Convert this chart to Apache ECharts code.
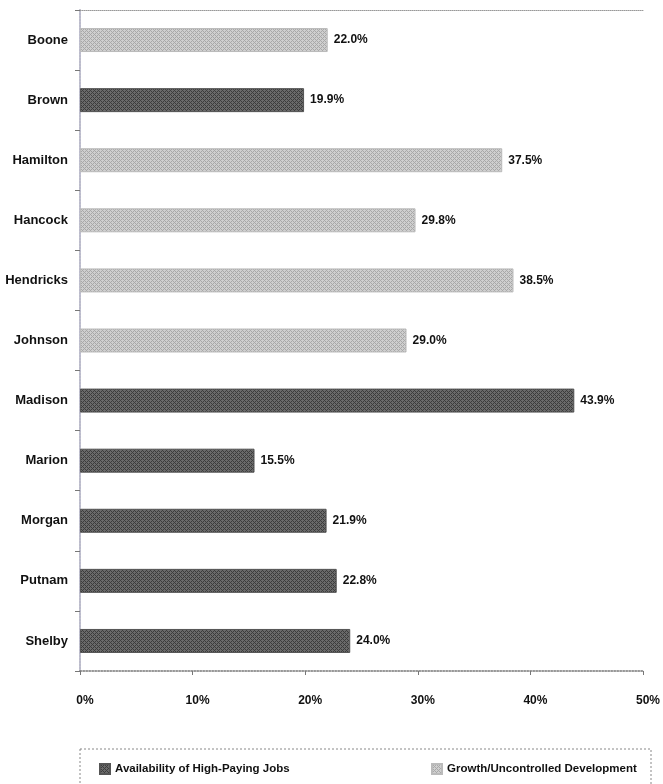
<!DOCTYPE html>
<html><head><meta charset="utf-8">
<script src="https://cdn.jsdelivr.net/npm/echarts@6/dist/echarts.min.js"></script>
<style>html,body{margin:0;padding:0;background:#fff}#c{width:663px;height:784px}</style>
</head><body><div id="c"></div>
<script>
const categories = ['Boone','Brown','Hamilton','Hancock','Hendricks','Johnson','Madison','Marion','Morgan','Putnam','Shelby'];
const jobsValues = [null,19.9,null,null,null,null,43.9,15.5,21.9,22.8,24.0];
const growthValues = [22.0,null,37.5,29.8,38.5,29.0,null,null,null,null,null];
const xTicks = [0,10,20,30,40,50];
const seriesNames = ['Availability of High-Paying Jobs','Growth/Uncontrolled Development'];

function makePattern(bg, fg) {
  const c = document.createElement('canvas');
  c.width = 4; c.height = 4;
  const g = c.getContext('2d');
  g.fillStyle = bg; g.fillRect(0,0,4,4);
  g.fillStyle = fg;
  g.fillRect(0,0,1,1); g.fillRect(2,2,1,1); g.fillRect(1,1,1,1); g.fillRect(3,3,1,1);
  g.fillRect(3,1,1,1); g.fillRect(1,3,1,1);
  return c;
}
const darkPat = {image: makePattern('#6a6a6a','#3c3c3c'), repeat:'repeat'};
const lightPat = {image: makePattern('#cfcfcf','#a8a8a8'), repeat:'repeat'};

const font = '"Liberation Sans",sans-serif';
const chart = echarts.init(document.getElementById('c'), null, {renderer:'canvas'});
const labelCfg = {show:true, position:'right', distance:6, color:'#111', fontFamily:font, fontWeight:'bold', fontSize:12,
  formatter: p => p.value == null ? '' : Number(p.value).toFixed(1) + '%'};
chart.setOption({
  animation:false,
  textStyle:{fontFamily:font},
  grid:{left:80, right:20, top:10, bottom:113, containLabel:false},
  xAxis:[{type:'value', min:xTicks[0], max:xTicks[xTicks.length-1], interval:10,
    axisLine:{show:true, lineStyle:{color:'#777', type:'dotted', width:1.5}},
    axisTick:{show:true, length:4, lineStyle:{color:'#777'}},
    axisLabel:{color:'#111', fontFamily:font, fontWeight:'bold', fontSize:12, margin:24, padding:[0,0,0,10], formatter:'{value}%'},
    splitLine:{show:false}},
    {type:'value', position:'top', min:0, max:50, axisLine:{show:true, lineStyle:{color:'#999', type:'dotted'}},
    axisTick:{show:false}, axisLabel:{show:false}, splitLine:{show:false}}],
  yAxis:[{type:'category', data:categories, inverse:true,
    axisLine:{show:true, lineStyle:{color:'#777', type:'dotted', width:1.5}},
    axisTick:{show:true, length:5, lineStyle:{color:'#777'}},
    axisLabel:{color:'#111', fontFamily:font, fontWeight:'bold', fontSize:13, margin:12}},
    {type:'category', data:categories, inverse:true, position:'right',
    axisLine:{show:true, lineStyle:{color:'#c8c8e0', type:'dotted', width:1.5}},
    axisTick:{show:false}, axisLabel:{show:false}}],
  legend:[{data:[seriesNames[0]], left:94, top:758, itemWidth:10, itemHeight:10, icon:'rect', itemGap:4,
    textStyle:{color:'#111', fontFamily:font, fontWeight:'bold', fontSize:11.5}},
    {data:[seriesNames[1]], left:426, top:758, itemWidth:10, itemHeight:10, icon:'rect',
    textStyle:{color:'#111', fontFamily:font, fontWeight:'bold', fontSize:11.5}}],
  graphic:[{type:'rect', shape:{x:80, y:749, width:571, height:40},
    style:{fill:'none', stroke:'#888', lineWidth:1, lineDash:[2,2]}}],
  series:[
    {name:seriesNames[0], type:'bar', stack:'s', data:jobsValues, barWidth:24,
     itemStyle:{color:darkPat, borderColor:'#555', borderWidth:1}, label:labelCfg},
    {name:seriesNames[1], type:'bar', stack:'s', data:growthValues, barWidth:24,
     itemStyle:{color:lightPat, borderColor:'#bbb', borderWidth:1}, label:labelCfg}
  ]
});
</script></body></html>
